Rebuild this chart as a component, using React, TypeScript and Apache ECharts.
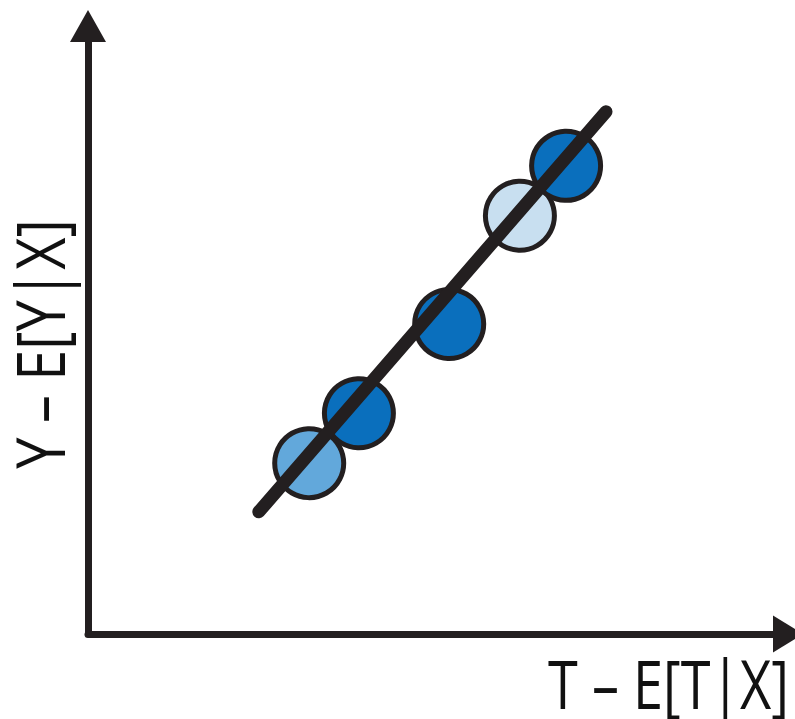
import React, { useEffect, useRef } from "react";
import * as echarts from "echarts";

// Residualised treatment (x) and outcome (y) for each point
const pointX = [3.16, 3.87, 5.16, 6.17, 6.83];
const pointY = [2.81, 3.63, 5.10, 6.88, 7.70];
const pointShade = ["mid", "dark", "dark", "light", "dark"];

// Fitted line end points
const lineX = [2.44, 7.40];
const lineY = [2.01, 8.59];

const xLabel = "T – E[T|X]";
const yLabel = "Y – E[Y|X]";

const shadeColors: Record<string, string> = {
  dark: "#0A6FBD",
  mid: "#62A8DB",
  light: "#C8DFF0",
};

const INK = "#231F20";

export default function App() {
  const ref = useRef<HTMLDivElement>(null);
  useEffect(() => {
    if (!ref.current) return;
    const chart = echarts.init(ref.current, undefined, { renderer: "svg" });
    const axisCommon = {
      type: "value" as const,
      min: 0,
      max: 10,
      axisTick: { show: false },
      axisLabel: { show: false },
      splitLine: { show: false },
    };
    chart.setOption({
      animation: false,
      backgroundColor: "#ffffff",
      grid: { left: 88, right: 7, top: 26, bottom: 85 },
      xAxis: {
        ...axisCommon,
        axisLine: {
          show: true,
          onZero: false,
          symbol: ["none", "triangle"],
          symbolSize: [37, 30],
          lineStyle: { color: INK, width: 7 },
        },
      },
      yAxis: {
        ...axisCommon,
        axisLine: {
          show: true,
          onZero: false,
          symbol: ["none", "triangle"],
          symbolSize: [36, 32],
          lineStyle: { color: INK, width: 7 },
        },
      },
      series: [
        {
          type: "scatter",
          symbolSize: 69,
          z: 2,
          data: pointX.map((x, i) => ({
            value: [x, pointY[i]],
            itemStyle: {
              color: shadeColors[pointShade[i]],
              borderColor: INK,
              borderWidth: 5,
              opacity: 1,
            },
          })),
        },
        {
          type: "line",
          z: 3,
          symbol: "none",
          data: lineX.map((x, i) => [x, lineY[i]]),
          lineStyle: { color: INK, width: 13, cap: "round", opacity: 1 },
        },
      ],
      graphic: [
        {
          type: "text",
          x: 789,
          y: 682,
          scaleX: 0.795,
          style: {
            text: xLabel,
            fontFamily: "Open Sans",
            fontSize: 68,
            fill: "#111111",
            align: "right",
            verticalAlign: "middle",
          },
        },
        {
          type: "text",
          x: 39,
          y: 344,
          rotation: Math.PI / 2,
          scaleX: 0.82,
          style: {
            text: yLabel,
            fontFamily: "Open Sans",
            fontSize: 68,
            fill: "#111111",
            align: "center",
            verticalAlign: "middle",
          },
        },
      ],
    });
    return () => chart.dispose();
  }, []);
  return (
    <div
      ref={ref}
      style={{ position: "fixed", left: 0, top: 0, width: 795, height: 719 }}
    />
  );
}
